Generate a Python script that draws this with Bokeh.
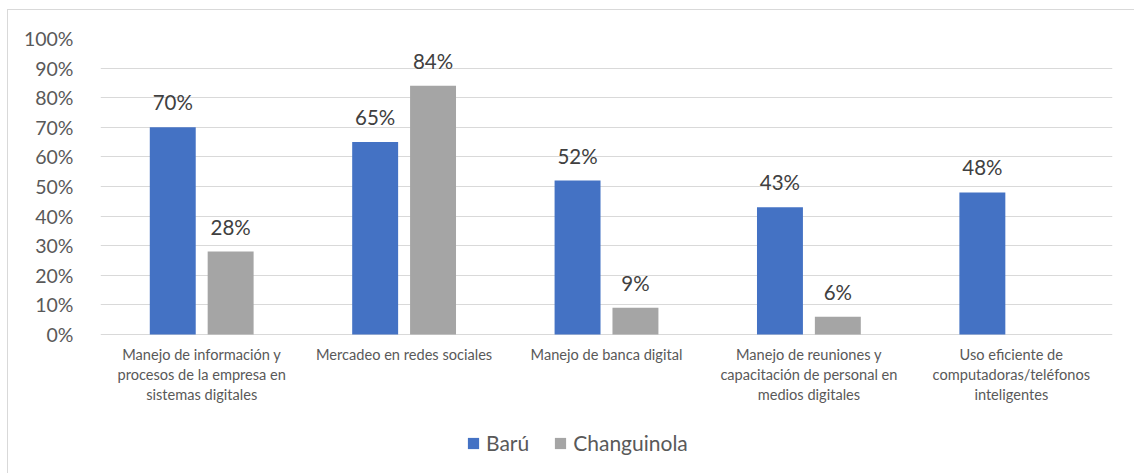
from bokeh.plotting import figure
from bokeh.models import ColumnDataSource, Legend, LegendItem, NumeralTickFormatter, LabelSet, FixedTicker
from bokeh.transform import dodge
from bokeh.embed import file_html
from bokeh.resources import INLINE
from bokeh.core.properties import value

categories = [
    "Manejo de información y\nprocesos de la empresa en\nsistemas digitales",
    "Mercadeo en redes sociales",
    "Manejo de banca digital",
    "Manejo de reuniones y\ncapacitación de personal en\nmedios digitales",
    "Uso eficiente de\ncomputadoras/teléfonos\ninteligentes",
]
series_names = ["Barú", "Changuinola"]
baru = [0.70, 0.65, 0.52, 0.43, 0.48]
changuinola = [0.28, 0.84, 0.09, 0.06, 0.0]
y_ticks = [0, 0.1, 0.2, 0.3, 0.4, 0.5, 0.6, 0.7, 0.8, 0.9, 1.0]

FONT = "Lato"
BLUE = "#4472C4"
GRAY = "#A5A5A5"
TXT = "#595959"

src = ColumnDataSource(dict(
    cat=categories,
    baru=baru,
    chang=changuinola,
    baru_lbl=["%d%%" % round(v * 100) if v > 0 else "" for v in baru],
    chang_lbl=["%d%%" % round(v * 100) if v > 0 else "" for v in changuinola],
))

# the frame reaches down to the chart's bottom edge so that the category
# texts and the legend sit inside it; 0..100% keeps its 296px height
p = figure(x_range=categories, y_range=(-0.4696, 1.0),
           frame_width=1012, frame_height=435,
           output_backend="svg", toolbar_location=None,
           min_border_left=92, min_border_right=22, min_border_top=28, min_border_bottom=0,
           styles={"border-top": "1px solid #d9d9d9", "border-left": "1px solid #d9d9d9",
                   "margin-left": "7px", "margin-top": "9px"})

r1 = p.vbar(x=dodge("cat", -0.143, range=p.x_range), top="baru", width=0.227, source=src,
            fill_color=BLUE, line_color=None)
r2 = p.vbar(x=dodge("cat", 0.143, range=p.x_range), top="chang", width=0.227, source=src,
            fill_color=GRAY, line_color=None)

for col, lbl, off in (("baru", "baru_lbl", -0.143), ("chang", "chang_lbl", 0.143)):
    p.add_layout(LabelSet(x=dodge("cat", off, range=p.x_range), y=col, text=lbl, source=src,
                          text_align="center", text_baseline="alphabetic", y_offset=17,
                          text_font=value(FONT), text_font_size=value("20.5px"),
                          text_color=value("#404040")))

# category labels under the 0% line
p.text(x="cat", y=0, text="cat", source=src, text_align="center", text_baseline="top",
       y_offset=12, text_font=value(FONT), text_font_size="14.6px", text_color=TXT,
       text_line_height=1.15)

p.outline_line_color = None
p.xgrid.grid_line_color = None
p.ygrid.grid_line_color = "#d9d9d9"
p.ygrid.grid_line_width = 1
p.xaxis.visible = False
p.yaxis.ticker = FixedTicker(ticks=y_ticks)
p.yaxis.formatter = NumeralTickFormatter(format="0%")
p.yaxis.axis_line_color = None
p.yaxis.major_tick_line_color = None
p.yaxis.minor_tick_line_color = None
p.yaxis.major_label_standoff = 21
p.yaxis.major_label_text_font = FONT
p.yaxis.major_label_text_font_size = "19.5px"
p.yaxis.major_label_text_color = TXT

legend = Legend(items=[LegendItem(label=series_names[0], renderers=[r1]),
                       LegendItem(label=series_names[1], renderers=[r2])],
                orientation="horizontal", location=(366, 18),
                label_text_font=FONT, label_text_font_size="21px", label_text_color=TXT,
                glyph_width=14, glyph_height=14, spacing=24, label_standoff=6,
                border_line_color=None, background_fill_alpha=0, margin=0, padding=0)
p.add_layout(legend, "center")

open("out.html", "w").write(file_html(p, INLINE))
